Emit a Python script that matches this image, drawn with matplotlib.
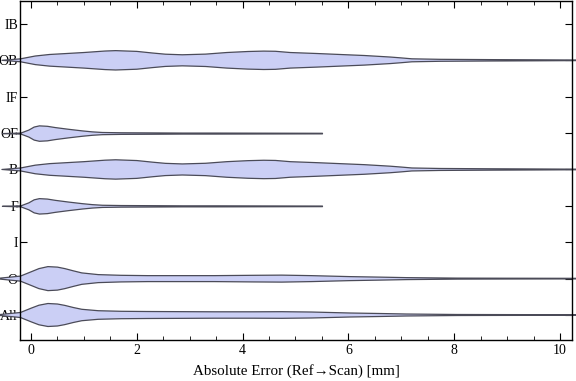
import matplotlib
matplotlib.use("Agg")
import matplotlib.pyplot as plt
from matplotlib.ticker import MultipleLocator

plt.rcParams["font.family"] = ["Liberation Serif", "DejaVu Serif"]

# categories, bottom to top
categories = ["All", "O", "I", "F", "B", "OF", "IF", "OB", "IB"]

# half-widths of the distribution shapes (in category units)
x_ob = [-0.55, -0.2, 0.08, 0.35, 0.64, 1.0, 1.4, 1.6, 2.0, 2.3, 2.54, 2.86, 3.3,
        3.7, 4.1, 4.4, 4.62, 4.9, 5.4, 5.84, 6.3, 6.79, 7.0, 7.2, 7.73, 8.68,
        9.5, 10.35]
w_ob = [0.0, 0.04, 0.118, 0.16, 0.184, 0.214, 0.255, 0.266, 0.245, 0.2, 0.168,
        0.152, 0.17, 0.214, 0.242, 0.253, 0.248, 0.214, 0.187, 0.16, 0.132,
        0.09, 0.066, 0.041, 0.027, 0.019, 0.014, 0.008]

x_of = [-0.55, -0.2, -0.05, 0.05, 0.15, 0.3, 0.45, 0.7, 0.96, 1.15, 1.34, 1.7,
        2.2, 2.86, 3.5, 4.5, 5.5]
w_of = [0.0, 0.014, 0.096, 0.179, 0.212, 0.2, 0.165, 0.118, 0.074, 0.047,
        0.03, 0.022, 0.019, 0.014, 0.014, 0.011, 0.008]

x_o = [-0.58, -0.2, 0.01, 0.15, 0.32, 0.5, 0.64, 0.8, 0.96, 1.27, 1.7, 2.2,
       3.0, 3.47, 4.2, 4.74, 5.3, 6.03, 6.6, 7.1, 8.05, 9.0, 10.35]
w_o = [0.014, 0.069, 0.192, 0.275, 0.33, 0.316, 0.275, 0.214, 0.157, 0.11,
       0.091, 0.082, 0.082, 0.082, 0.091, 0.096, 0.082, 0.055, 0.041, 0.027,
       0.014, 0.011, 0.008]
w_all = [0.014, 0.069, 0.192, 0.269, 0.316, 0.302, 0.264, 0.206, 0.157, 0.118,
         0.102, 0.096, 0.091, 0.088, 0.088, 0.091, 0.082, 0.055, 0.041, 0.027,
         0.014, 0.011, 0.008]

shapes = {
    "OB": (x_ob, w_ob),
    "B": (x_ob, w_ob),
    "OF": (x_of, w_of),
    "F": (x_of, w_of),
    "O": (x_o, w_o),
    "All": (x_o, w_all),
}

fig = plt.figure(figsize=(5.76, 3.81), dpi=100)
ax = fig.add_axes([20 / 576, 1 - 340 / 381, 552 / 576, 339 / 381])

for i, name in enumerate(categories):
    if name not in shapes:
        continue
    xs, ws = shapes[name]
    pos = i + 1
    lo = [pos - w for w in ws]
    hi = [pos + w for w in ws]
    ax.fill_between(xs, lo, hi, facecolor="#cbcff5", edgecolor="#4b4b58",
                    linewidth=0.9, clip_on=False, zorder=2)

ax.set_xlim(-0.208, 10.227)
ax.set_ylim(0.313, 9.63)
ax.set_yticks(range(1, len(categories) + 1))
ax.set_yticklabels(categories)
ax.xaxis.set_major_locator(MultipleLocator(2))
ax.xaxis.set_minor_locator(MultipleLocator(0.5))

ax.tick_params(axis="both", which="both", direction="in", top=True, right=True,
               labelsize=10, colors="black", pad=3)
ax.tick_params(axis="x", which="major", length=5, width=0.8)
ax.tick_params(axis="x", which="minor", length=3, width=0.6)
ax.tick_params(axis="y", which="major", length=5, width=0.8, pad=1.5)
for sp in ax.spines.values():
    sp.set_linewidth(1.0)

ax.set_xlabel("Absolute Error (Ref\u2192Scan) [mm]", fontsize=10.8, labelpad=5)

fig.savefig("out.png", dpi=100)
